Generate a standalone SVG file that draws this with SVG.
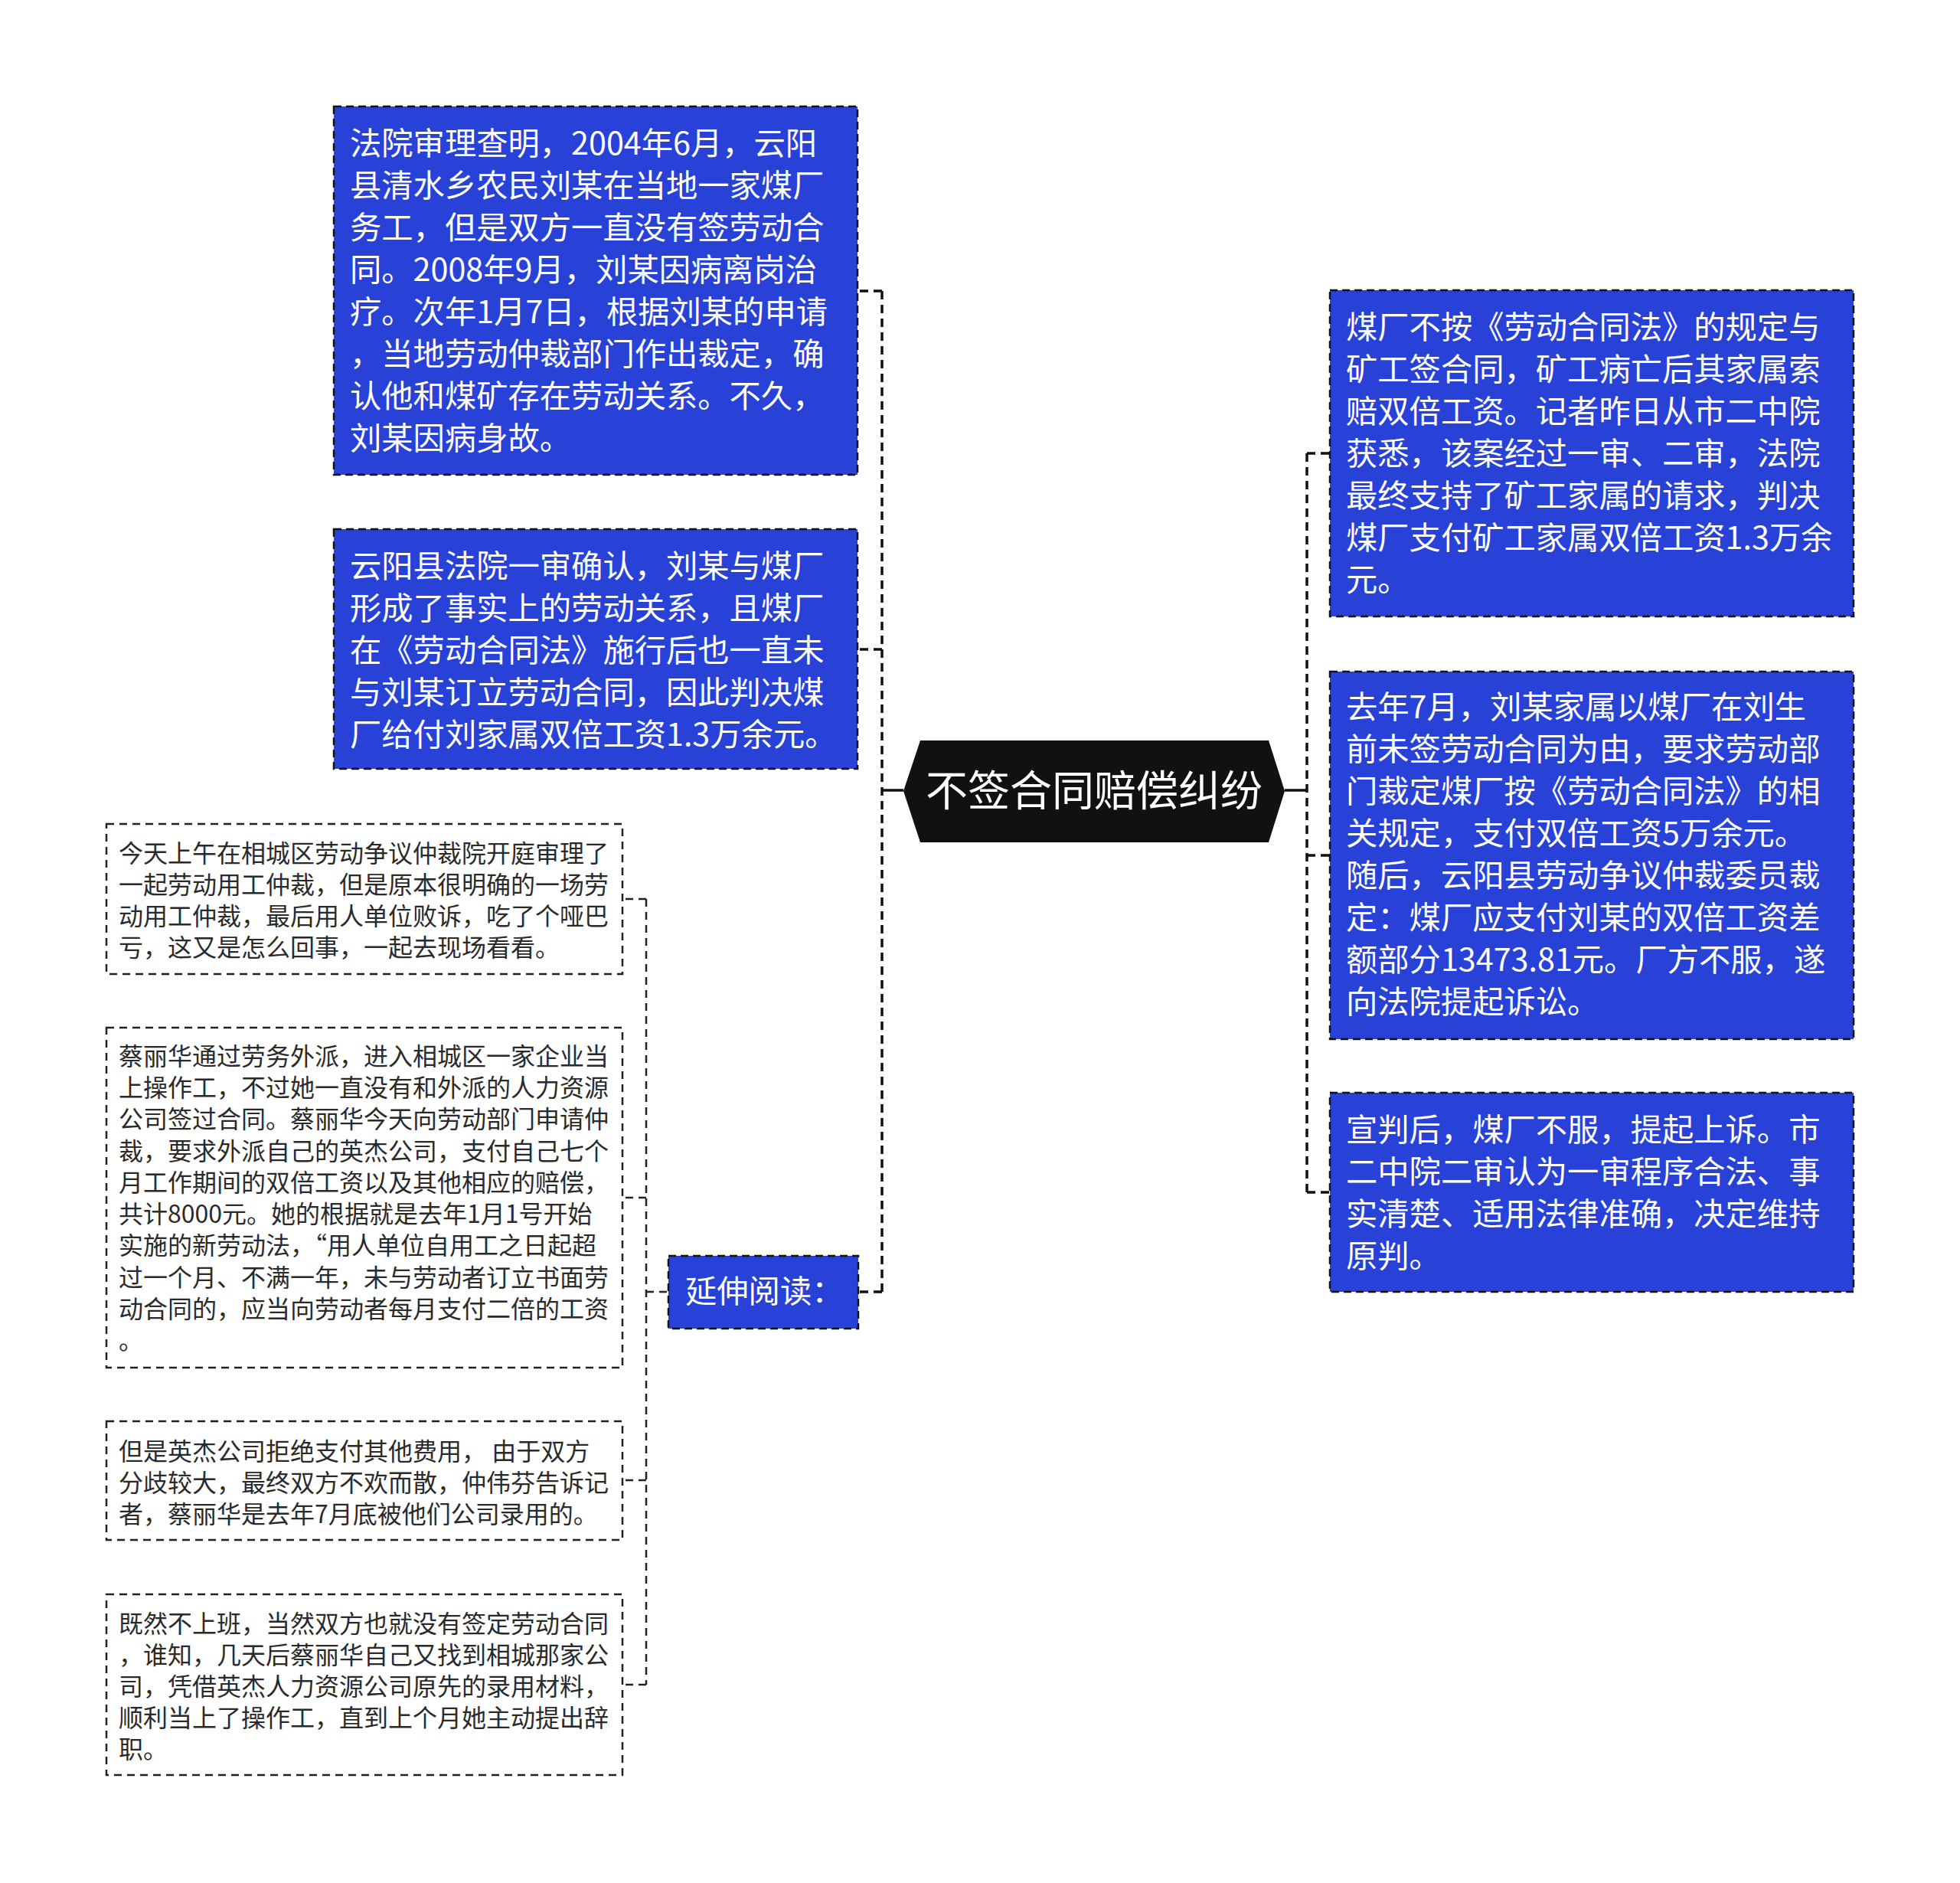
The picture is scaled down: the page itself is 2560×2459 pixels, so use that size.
<svg xmlns="http://www.w3.org/2000/svg" width="2560" height="2459" viewBox="0 0 2560 2459">
<style>
.bg{fill:#ffffff}
.blue{fill:#2842d8;stroke:#111;stroke-width:2.5;stroke-dasharray:10 6}
.plain{fill:#ffffff;stroke:#222;stroke-width:2.5;stroke-dasharray:10 7}
.bt{font-family:"Noto Sans CJK SC","Noto Sans",sans-serif;font-size:41.3px;fill:#ffffff}
.st{font-family:"Noto Sans CJK SC","Noto Sans",sans-serif;font-size:32px;fill:#2a2a2a}
.ct{font-family:"Noto Sans CJK SC","Noto Sans",sans-serif;font-size:55px;fill:#ffffff}
.trunk{fill:none;stroke:#111;stroke-width:3.5;stroke-dasharray:11 7}
.sub{fill:none;stroke:#222;stroke-width:2.5;stroke-dasharray:10 7}
.solid{fill:none;stroke:#111;stroke-width:3.5}
</style>
<rect class="bg" x="0" y="0" width="2560" height="2459"/>
<g id="connectors">
  <path class="trunk" d="M1152,380 V1687"/>
  <path class="trunk" d="M1152,380 H1120 M1152,848 H1120 M1152,1687 H1121"/>
  <path class="solid" d="M1180,1032 H1152"/>
  <path class="trunk" d="M1707,592 V1557"/>
  <path class="trunk" d="M1707,592 H1737 M1707,1117 H1737 M1707,1557 H1737"/>
  <path class="solid" d="M1678,1032 H1707"/>
  <path class="sub" d="M844,1174 V2200"/>
  <path class="sub" d="M844,1174 H813 M844,1564 H813 M844,1933 H813 M844,2200 H813 M844,1687 H873"/>
</g>
<g id="center">
  <polygon points="1180,1033 1202,967 1657,967 1678,1033 1657,1100 1202,1100" fill="#111111"/>
  <text class="ct" x="1429" y="1052" text-anchor="middle">不签合同赔偿纠纷</text>
</g>
<g id="nodeA">
  <rect class="blue" x="436" y="139" width="684" height="481"/>
  <text class="bt" x="457" y="202">法院审理查明，2004年6月，云阳</text>
  <text class="bt" x="457" y="257">县清水乡农民刘某在当地一家煤厂</text>
  <text class="bt" x="457" y="312">务工，但是双方一直没有签劳动合</text>
  <text class="bt" x="457" y="367">同。2008年9月，刘某因病离岗治</text>
  <text class="bt" x="457" y="422">疗。次年1月7日，根据刘某的申请</text>
  <text class="bt" x="457" y="477">，当地劳动仲裁部门作出裁定，确</text>
  <text class="bt" x="457" y="532">认他和煤矿存在劳动关系。不久，</text>
  <text class="bt" x="457" y="587">刘某因病身故。</text>
</g>
<g id="nodeB">
  <rect class="blue" x="436" y="691" width="684" height="313"/>
  <text class="bt" x="457" y="754">云阳县法院一审确认，刘某与煤厂</text>
  <text class="bt" x="457" y="809">形成了事实上的劳动关系，且煤厂</text>
  <text class="bt" x="457" y="864">在《劳动合同法》施行后也一直未</text>
  <text class="bt" x="457" y="919">与刘某订立劳动合同，因此判决煤</text>
  <text class="bt" x="457" y="974">厂给付刘家属双倍工资1.3万余元。</text>
</g>
<g id="nodeC">
  <rect class="blue" x="1737" y="379" width="684" height="426"/>
  <text class="bt" x="1758" y="442">煤厂不按《劳动合同法》的规定与</text>
  <text class="bt" x="1758" y="497">矿工签合同，矿工病亡后其家属索</text>
  <text class="bt" x="1758" y="552">赔双倍工资。记者昨日从市二中院</text>
  <text class="bt" x="1758" y="607">获悉，该案经过一审、二审，法院</text>
  <text class="bt" x="1758" y="662">最终支持了矿工家属的请求，判决</text>
  <text class="bt" x="1758" y="717">煤厂支付矿工家属双倍工资1.3万余</text>
  <text class="bt" x="1758" y="772">元。</text>
</g>
<g id="nodeD">
  <rect class="blue" x="1737" y="877" width="684" height="480"/>
  <text class="bt" x="1758" y="938">去年7月，刘某家属以煤厂在刘生</text>
  <text class="bt" x="1758" y="993">前未签劳动合同为由，要求劳动部</text>
  <text class="bt" x="1758" y="1048">门裁定煤厂按《劳动合同法》的相</text>
  <text class="bt" x="1758" y="1103">关规定，支付双倍工资5万余元。</text>
  <text class="bt" x="1758" y="1158">随后，云阳县劳动争议仲裁委员裁</text>
  <text class="bt" x="1758" y="1213">定：煤厂应支付刘某的双倍工资差</text>
  <text class="bt" x="1758" y="1268">额部分13473.81元。厂方不服，遂</text>
  <text class="bt" x="1758" y="1323">向法院提起诉讼。</text>
</g>
<g id="nodeE">
  <rect class="blue" x="1737" y="1427" width="684" height="260"/>
  <text class="bt" x="1758" y="1490">宣判后，煤厂不服，提起上诉。市</text>
  <text class="bt" x="1758" y="1545">二中院二审认为一审程序合法、事</text>
  <text class="bt" x="1758" y="1600">实清楚、适用法律准确，决定维持</text>
  <text class="bt" x="1758" y="1655">原判。</text>
</g>
<g id="nodeExt">
  <rect class="blue" x="873" y="1640" width="248" height="95"/>
  <text class="bt" x="895" y="1701">延伸阅读：</text>
</g>
<g id="nodeF">
  <rect class="plain" x="139" y="1076" width="674" height="196"/>
  <text class="st" x="155" y="1126">今天上午在相城区劳动争议仲裁院开庭审理了</text>
  <text class="st" x="155" y="1167">一起劳动用工仲裁，但是原本很明确的一场劳</text>
  <text class="st" x="155" y="1208">动用工仲裁，最后用人单位败诉，吃了个哑巴</text>
  <text class="st" x="155" y="1249">亏，这又是怎么回事，一起去现场看看。</text>
</g>
<g id="nodeG">
  <rect class="plain" x="139" y="1342" width="674" height="444"/>
  <text class="st" x="155" y="1391">蔡丽华通过劳务外派，进入相城区一家企业当</text>
  <text class="st" x="155" y="1432">上操作工，不过她一直没有和外派的人力资源</text>
  <text class="st" x="155" y="1473">公司签过合同。蔡丽华今天向劳动部门申请仲</text>
  <text class="st" x="155" y="1515">裁，要求外派自己的英杰公司，支付自己七个</text>
  <text class="st" x="155" y="1556">月工作期间的双倍工资以及其他相应的赔偿，</text>
  <text class="st" x="155" y="1597">共计8000元。她的根据就是去年1月1号开始</text>
  <text class="st" x="155" y="1638">实施的新劳动法，“用人单位自用工之日起超</text>
  <text class="st" x="155" y="1680">过一个月、不满一年，未与劳动者订立书面劳</text>
  <text class="st" x="155" y="1721">动合同的，应当向劳动者每月支付二倍的工资</text>
  <text class="st" x="155" y="1762">。</text>
</g>
<g id="nodeH">
  <rect class="plain" x="139" y="1856" width="674" height="155"/>
  <text class="st" x="155" y="1907">但是英杰公司拒绝支付其他费用， 由于双方</text>
  <text class="st" x="155" y="1948">分歧较大，最终双方不欢而散，仲伟芬告诉记</text>
  <text class="st" x="155" y="1989">者，蔡丽华是去年7月底被他们公司录用的。</text>
</g>
<g id="nodeI">
  <rect class="plain" x="139" y="2082" width="674" height="236"/>
  <text class="st" x="155" y="2132">既然不上班，当然双方也就没有签定劳动合同</text>
  <text class="st" x="155" y="2173">，谁知，几天后蔡丽华自己又找到相城那家公</text>
  <text class="st" x="155" y="2214">司，凭借英杰人力资源公司原先的录用材料，</text>
  <text class="st" x="155" y="2255">顺利当上了操作工，直到上个月她主动提出辞</text>
  <text class="st" x="155" y="2296">职。</text>
</g>
</svg>
